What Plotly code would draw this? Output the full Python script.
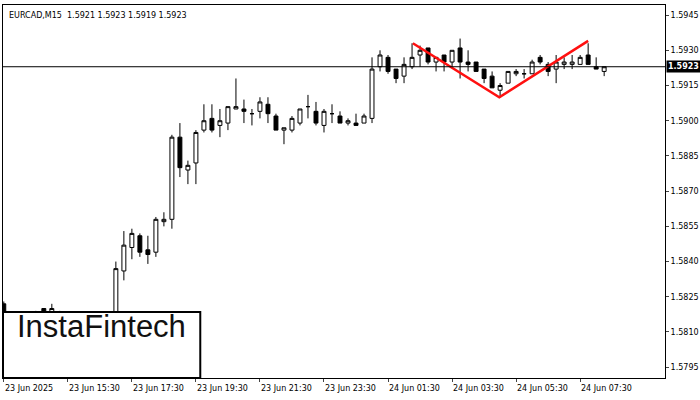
import plotly.graph_objects as go

# EURCAD M15 candles
opens = [1.5822, 1.5814, 1.5808, 1.5815, 1.5808, 1.5820, 1.5814, 1.5818, 1.5808, 1.5807,
         1.5807, 1.5808, 1.5807, 1.5807, 1.5815, 1.5836, 1.5846, 1.5851, 1.5845, 1.5844,
         1.5857, 1.5858, 1.5893, 1.5879, 1.5882, 1.5896, 1.5901, 1.5898, 1.5899, 1.5905,
         1.5905, 1.5903, 1.5904, 1.5907, 1.5902, 1.5896, 1.5896, 1.5899, 1.5906, 1.5904,
         1.5898, 1.5903, 1.5902, 1.5899, 1.5899, 1.5899, 1.5901, 1.5923, 1.5927, 1.5922,
         1.5919, 1.5923, 1.5928, 1.5931, 1.5925, 1.5928, 1.5925, 1.5931, 1.5925, 1.5925,
         1.5922, 1.5919, 1.5913, 1.5916, 1.5920, 1.5920, 1.5920, 1.5927, 1.5924, 1.5922,
         1.5924, 1.5924, 1.5924, 1.5928, 1.5923, 1.5921]
highs = [1.5823, 1.5816, 1.5817, 1.5817, 1.5819, 1.5820, 1.5822, 1.5819, 1.5808, 1.5808,
         1.5810, 1.5811, 1.5811, 1.5816, 1.5840, 1.5853, 1.5854, 1.5852, 1.5851, 1.5859,
         1.5861, 1.5894, 1.5899, 1.5883, 1.5896, 1.5907, 1.5907, 1.5905, 1.5906, 1.5918,
         1.5909, 1.5905, 1.5910, 1.5910, 1.5903, 1.5897, 1.5902, 1.5905, 1.5911, 1.5908,
         1.5905, 1.5907, 1.5904, 1.5901, 1.5903, 1.5903, 1.5927, 1.5930, 1.5928, 1.5922,
         1.5927, 1.5933, 1.5932, 1.5931, 1.5927, 1.5928, 1.5930, 1.5935, 1.5930, 1.5925,
         1.5922, 1.5921, 1.5916, 1.5921, 1.5922, 1.5922, 1.5926, 1.5928, 1.5925, 1.5928,
         1.5927, 1.5928, 1.5928, 1.5933, 1.5927, 1.5923]
lows = [1.5812, 1.5807, 1.5807, 1.5806, 1.5806, 1.5807, 1.5811, 1.5806, 1.5806, 1.5806,
        1.5806, 1.5806, 1.5806, 1.5806, 1.5814, 1.5832, 1.5841, 1.5842, 1.5839, 1.5842,
        1.5855, 1.5854, 1.5876, 1.5873, 1.5873, 1.5895, 1.5895, 1.5893, 1.5896, 1.5905,
        1.5899, 1.5898, 1.5901, 1.5899, 1.5896, 1.5890, 1.5895, 1.5898, 1.5901, 1.5898,
        1.5895, 1.5899, 1.5899, 1.5898, 1.5898, 1.5899, 1.5899, 1.5921, 1.5920, 1.5916,
        1.5916, 1.5922, 1.5923, 1.5924, 1.5921, 1.5921, 1.5923, 1.5918, 1.5921, 1.5921,
        1.5916, 1.5914, 1.5910, 1.5916, 1.5919, 1.5918, 1.5920, 1.5924, 1.5919, 1.5916,
        1.5922, 1.5922, 1.5924, 1.5924, 1.5922, 1.5919]
closes = [1.5815, 1.5809, 1.5816, 1.5807, 1.5818, 1.5813, 1.5820, 1.5807, 1.5807, 1.5807,
          1.5807, 1.5807, 1.5808, 1.5814, 1.5837, 1.5847, 1.5852, 1.5844, 1.5843, 1.5858,
          1.5858, 1.5893, 1.5880, 1.5881, 1.5895, 1.5900, 1.5896, 1.5900, 1.5906, 1.5906,
          1.5904, 1.5903, 1.5908, 1.5903, 1.5896, 1.5897, 1.5901, 1.5905, 1.5906, 1.5899,
          1.5904, 1.5903, 1.5899, 1.5900, 1.5898, 1.5902, 1.5922, 1.5928, 1.5921, 1.5918,
          1.5924, 1.5927, 1.5930, 1.5925, 1.5927, 1.5925, 1.5930, 1.5925, 1.5924, 1.5921,
          1.5918, 1.5914, 1.5915, 1.5921, 1.5921, 1.5920, 1.5925, 1.5925, 1.5921, 1.5925,
          1.5925, 1.5925, 1.5927, 1.5924, 1.5922, 1.5923]

time_ticks = [0, 8, 16, 24, 32, 40, 48, 56, 64, 72]
time_labels = ["23 Jun 2025", "23 Jun 15:30", "23 Jun 17:30", "23 Jun 19:30", "23 Jun 21:30",
               "23 Jun 23:30", "24 Jun 01:30", "24 Jun 03:30", "24 Jun 05:30", "24 Jun 07:30"]
price_ticks = [1.5795, 1.5810, 1.5825, 1.5840, 1.5855, 1.5870, 1.5885, 1.5900, 1.5915, 1.5930, 1.5945]
price_labels = ['%.4f' % p for p in price_ticks]

# double top pattern outline
pattern_x = [51.1, 61.9, 73.0]
pattern_y = [1.5933, 1.5910, 1.5934]
last_price = 1.5923

idx = list(range(len(opens)))

fig = go.Figure()
fig.add_trace(go.Candlestick(
    x=idx, open=opens, high=highs, low=lows, close=closes,
    increasing=dict(line=dict(color='black', width=1), fillcolor='white'),
    decreasing=dict(line=dict(color='black', width=1), fillcolor='black'),
    whiskerwidth=0, showlegend=False, hoverinfo='none'))
fig.add_trace(go.Scatter(x=pattern_x, y=pattern_y, mode='lines',
                         line=dict(color='#ff1010', width=2.5), showlegend=False))

fig.add_hline(y=last_price, line=dict(color='black', width=1))

fig.update_layout(
    width=700, height=400,
    margin=dict(l=3, r=35, t=5, b=22),
    plot_bgcolor='white', paper_bgcolor='white',
    font=dict(family='DejaVu Sans', size=8, color='black'),
    xaxis=dict(range=[-0.1, 82.6], rangeslider=dict(visible=False), showgrid=False,
               zeroline=False, tickvals=time_ticks, ticktext=[''] * len(time_ticks),
               ticks='outside', ticklen=3, mirror=True, showline=True, linecolor='black',
               automargin=False),
    yaxis=dict(range=[1.57904, 1.59493], side='right', showgrid=False, zeroline=False,
               tickvals=price_ticks, ticktext=price_labels, ticks='outside', ticklen=3,
               mirror=True, showline=True, linecolor='black', automargin=False,
               tickfont=dict(size=8)),
)

for t, lab in zip(time_ticks, time_labels):
    fig.add_annotation(x=t, y=0, xref='x', yref='paper', text=lab, showarrow=False,
                       xanchor='left', yanchor='top', yshift=-4, xshift=-1,
                       font=dict(size=8))

fig.add_annotation(x=1, y=last_price, xref='paper', yref='y', text='<b>1.5923</b>',
                   showarrow=False, xanchor='left', bgcolor='black', borderpad=1,
                   font=dict(color='white', size=8), xshift=1)

fig.add_annotation(x=0.006, y=0.99, xref='paper', yref='paper',
                   text='EURCAD,M15  1.5921 1.5923 1.5919 1.5923', showarrow=False,
                   xanchor='left', yanchor='top', font=dict(size=8))

# logo box
fig.add_shape(type='rect', xref='paper', yref='paper', x0=0, x1=0.298, y0=0, y1=0.177,
              fillcolor='white', line=dict(color='black', width=2), layer='above')
fig.add_annotation(x=0.149, y=0.085, xref='paper', yref='paper', text='InstaFintech',
                   showarrow=False, xanchor='center',
                   font=dict(family='Liberation Sans', size=31, color='#111'))

fig.write_html("out.html", config={'displayModeBar': False},
               post_script="document.body.style.margin='0';")
